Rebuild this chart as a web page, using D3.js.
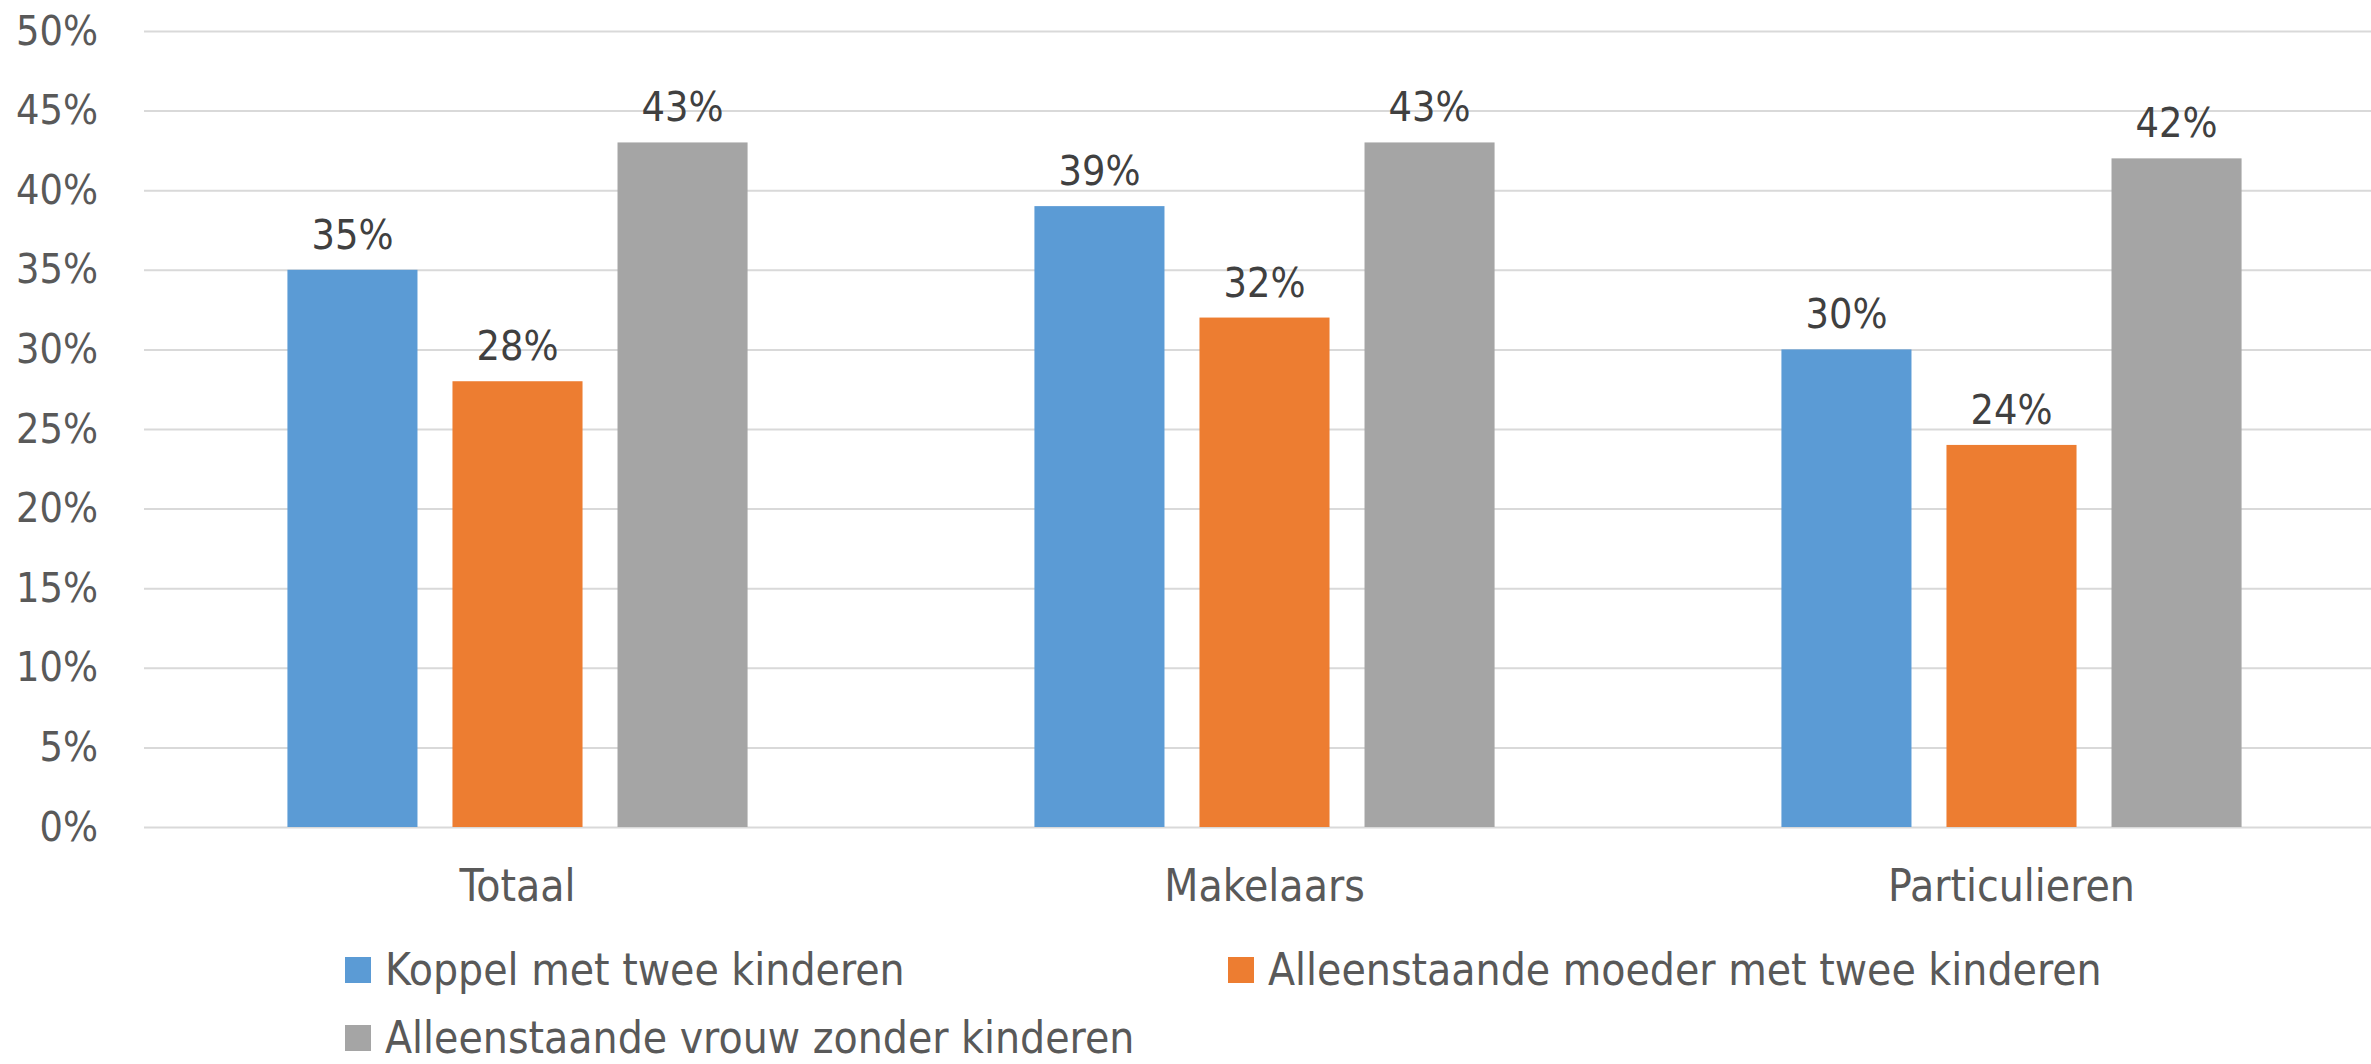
<!DOCTYPE html>
<html>
<head>
<meta charset="utf-8">
<script src="https://cdn.jsdelivr.net/npm/d3@7"></script>
<style>
  body { margin: 0; background: #fff; }
  text {
    font-family: "DejaVu Sans Condensed", "DejaVu Sans", sans-serif;
    font-stretch: condensed;
  }
</style>
</head>
<body>
<script>
  const categories = ['Totaal', 'Makelaars', 'Particulieren'];
  const seriesNames = [
    'Koppel met twee kinderen',
    'Alleenstaande moeder met twee kinderen',
    'Alleenstaande vrouw zonder kinderen'
  ];
  const koppel = [0.35, 0.39, 0.30];
  const moeder = [0.28, 0.32, 0.24];
  const vrouw = [0.43, 0.43, 0.42];
  const yTicks = [0, 0.05, 0.1, 0.15, 0.2, 0.25, 0.3, 0.35, 0.4, 0.45, 0.5];
  const colors = ['#5B9BD5', '#ED7D31', '#A5A5A5'];

  const seriesValues = [koppel, moeder, vrouw];

  const width = 2371;
  const height = 1064;
  const margin = { top: 31, right: -14, bottom: 237, left: 144 };

  const svg = d3.select('body')
    .append('svg')
    .attr('width', width)
    .attr('height', height);

  const x0 = d3.scaleBand()
    .domain(categories)
    .range([margin.left, width - margin.right])
    .paddingInner(0.384)
    .paddingOuter(0.192);

  const x1 = d3.scaleBand()
    .domain(seriesNames)
    .range([0, x0.bandwidth()])
    .paddingInner(0.212);

  const y = d3.scaleLinear()
    .domain([0, 0.5])
    .range([height - margin.bottom, margin.top]);

  const fmt = d3.format('.0%');

  // gridlines + y labels
  const yAxis = svg.append('g')
    .attr('transform', `translate(${margin.left},0)`)
    .call(d3.axisLeft(y).tickValues(yTicks).tickFormat(fmt)
      .tickSize(-(width - margin.left)).tickPadding(46));
  yAxis.select('.domain').remove();
  yAxis.selectAll('line')
    .attr('stroke', '#D9D9D9')
    .attr('stroke-width', 2);
  yAxis.selectAll('text')
    .attr('fill', '#595959')
    .style('font-size', '41px');

  // bars
  const rows = categories.map((c, i) => ({
    category: c,
    values: seriesNames.map((s, j) => ({ series: s, value: seriesValues[j][i], color: colors[j] }))
  }));

  const groups = svg.append('g')
    .selectAll('g')
    .data(rows)
    .join('g')
    .attr('transform', (d) => `translate(${x0(d.category)},0)`);

  groups.selectAll('rect')
    .data((d) => d.values)
    .join('rect')
    .attr('x', (d) => x1(d.series))
    .attr('y', (d) => y(d.value))
    .attr('width', x1.bandwidth())
    .attr('height', (d) => y(0) - y(d.value))
    .attr('fill', (d) => d.color);

  groups.selectAll('.label')
    .data((d) => d.values)
    .join('text')
    .attr('class', 'label')
    .attr('x', (d) => x1(d.series) + x1.bandwidth() / 2)
    .attr('y', (d) => y(d.value) - 21)
    .attr('text-anchor', 'middle')
    .attr('fill', '#404040')
    .style('font-size', '41px')
    .text((d) => fmt(d.value));

  // category labels
  const xAxis = svg.append('g')
    .attr('transform', `translate(0,${y(0)})`)
    .call(d3.axisBottom(x0).tickSize(0).tickPadding(43));
  xAxis.select('.domain').remove();
  xAxis.selectAll('text')
    .attr('fill', '#595959')
    .style('font-size', '44px');

  // legend
  const legendPos = [[345, 985], [1228, 985], [345, 1053]];
  const legend = svg.append('g')
    .selectAll('g')
    .data(seriesNames)
    .join('g')
    .attr('transform', (d, i) => `translate(${legendPos[i][0]},${legendPos[i][1]})`);

  legend.append('rect')
    .attr('x', 0)
    .attr('y', -28)
    .attr('width', 26)
    .attr('height', 26)
    .attr('fill', (d, i) => colors[i]);

  legend.append('text')
    .attr('x', 40)
    .attr('y', 0)
    .attr('fill', '#595959')
    .style('font-size', '44px')
    .text((d) => d);
</script>
</body>
</html>
